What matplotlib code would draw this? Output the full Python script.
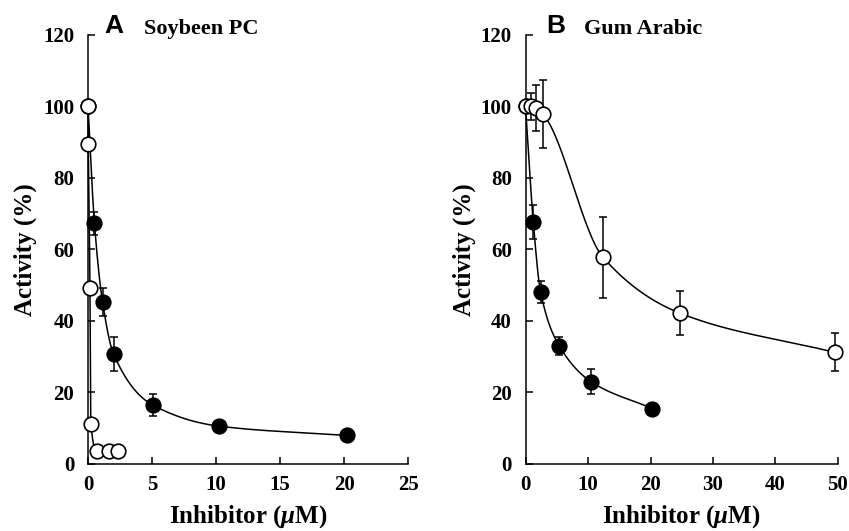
import numpy as np
import matplotlib
matplotlib.use("Agg")
import matplotlib.pyplot as plt

# panel A: soybean PC
a_filled_x = [0, 0.5, 1.13, 2.0, 5.05, 10.2, 20.2]
a_filled_y = [100, 67.3, 45.4, 30.7, 16.5, 10.6, 8.0]
a_filled_err = [0, 3.3, 3.9, 4.7, 3.0, 0, 0]

a_open_x = [0, 0.02, 0.15, 0.22, 0.72, 1.6, 2.35]
a_open_y = [100, 89.6, 49.2, 11.3, 3.5, 3.5, 3.5]

# panel B: gum arabic
b_filled_x = [0, 1.24, 2.4, 5.4, 10.5, 20.3]
b_filled_y = [100, 67.7, 48.2, 33.0, 23.0, 15.5]
b_filled_err = [0, 4.7, 3.1, 2.6, 3.5, 0]

b_open_x = [0, 0.8, 1.6, 2.8, 12.4, 24.7, 49.5]
b_open_y = [100, 100, 99.5, 97.8, 57.8, 42.2, 31.2]
b_open_err = [0, 3.8, 6.5, 9.5, 11.4, 6.1, 5.3]

yticks = [0, 20, 40, 60, 80, 100, 120]
a_xticks = [0, 5, 10, 15, 20, 25]
b_xticks = [0, 10, 20, 30, 40, 50]

plt.rcParams['font.family'] = ['Liberation Serif', 'DejaVu Serif']
plt.rcParams['font.weight'] = 'bold'
plt.rcParams['mathtext.fontset'] = 'custom'
plt.rcParams['mathtext.rm'] = 'Liberation Serif:bold'
plt.rcParams['mathtext.it'] = 'Liberation Serif:italic:bold'


def smooth(x, y, n=400):
    # monotone cubic (Fritsch-Carlson) through the data points
    x = np.asarray(x, float)
    y = np.asarray(y, float)
    h = np.diff(x)
    delta = np.diff(y) / h
    d = np.zeros_like(y)
    d[0] = delta[0]
    d[-1] = delta[-1]
    for k in range(1, len(x) - 1):
        if delta[k - 1] * delta[k] > 0:
            w1 = 2 * h[k] + h[k - 1]
            w2 = h[k] + 2 * h[k - 1]
            d[k] = (w1 + w2) / (w1 / delta[k - 1] + w2 / delta[k])
    xs = np.linspace(x[0], x[-1], n)
    idx = np.clip(np.searchsorted(x, xs) - 1, 0, len(x) - 2)
    t = (xs - x[idx]) / h[idx]
    h00 = 2 * t**3 - 3 * t**2 + 1
    h10 = t**3 - 2 * t**2 + t
    h01 = -2 * t**3 + 3 * t**2
    h11 = t**3 - t**2
    ys = h00 * y[idx] + h10 * h[idx] * d[idx] + h01 * y[idx + 1] + h11 * h[idx] * d[idx + 1]
    return xs, ys


def draw_series(ax, x, y, err, face):
    xs, ys = smooth(x, y)
    ax.plot(xs, ys, color='black', lw=1.1, zorder=2, clip_on=False)
    if err is not None:
        ax.errorbar(x, y, yerr=err, fmt='none', ecolor='black', elinewidth=1.1,
                    capsize=3, capthick=1.1, zorder=3, clip_on=False)
    ax.plot(x, y, 'o', ms=10.5, mfc=face, mec='black', mew=1.2, zorder=4, clip_on=False)


fig = plt.figure(figsize=(8.49, 5.31), dpi=100)
ax_a = fig.add_axes([0.1037, 0.1262, 0.377, 0.808])
ax_b = fig.add_axes([0.619, 0.1262, 0.368, 0.808])

draw_series(ax_a, a_filled_x, a_filled_y, a_filled_err, 'black')
draw_series(ax_a, a_open_x, a_open_y, None, 'white')
draw_series(ax_b, b_filled_x, b_filled_y, b_filled_err, 'black')
draw_series(ax_b, b_open_x, b_open_y, b_open_err, 'white')

for ax, xt in [(ax_a, a_xticks), (ax_b, b_xticks)]:
    ax.set_xlim(xt[0], xt[-1])
    ax.set_ylim(0, 120)
    ax.set_xticks(xt)
    ax.set_yticks(yticks)
    for s in ['top', 'right']:
        ax.spines[s].set_visible(False)
    for s in ['left', 'bottom']:
        ax.spines[s].set_linewidth(1.1)
    ax.tick_params(axis='both', direction='in', length=5, width=1.1, labelsize=15)
    ax.tick_params(axis='y', pad=10)
    ax.tick_params(axis='x', pad=8)
    ax.set_xlabel(r'Inhibitor ($\mu$M)', fontsize=18, fontweight='bold', labelpad=6)
    ax.set_ylabel('Activity (%)', fontsize=18, fontweight='bold')
    ax.yaxis.set_label_coords(-0.16, 0.5)

fig.text(104 / 849, 1 - 33 / 531, 'A', family='Liberation Sans', fontsize=19,
         fontweight='bold', va='baseline')
fig.text(144 / 849, 1 - 34 / 531, 'Soybeen PC', fontsize=16, fontweight='bold', va='baseline')
fig.text(546 / 849, 1 - 33 / 531, 'B', family='Liberation Sans', fontsize=19,
         fontweight='bold', va='baseline')
fig.text(584 / 849, 1 - 34 / 531, 'Gum Arabic', fontsize=16, fontweight='bold', va='baseline')

fig.savefig('out.png', dpi=100)
